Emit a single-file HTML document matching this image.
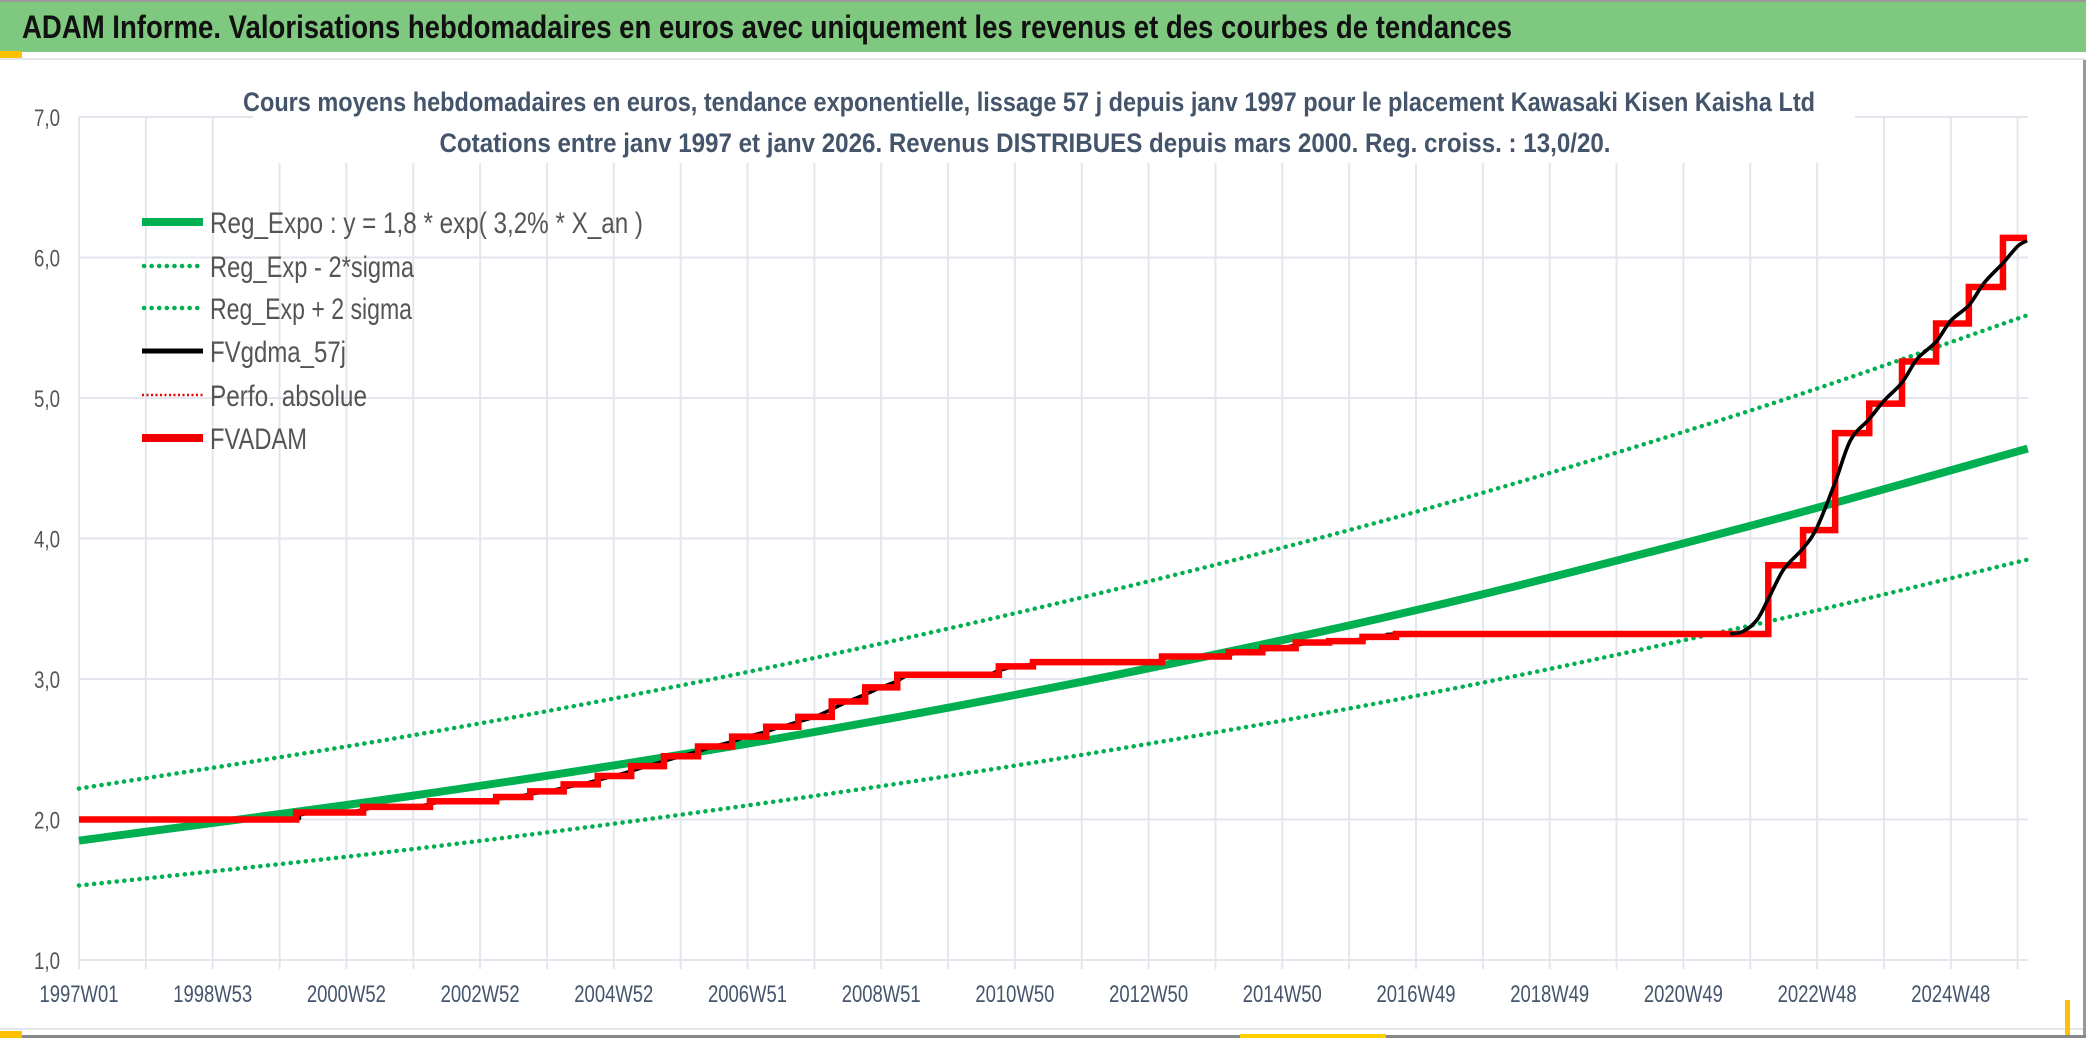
<!DOCTYPE html>
<html><head><meta charset="utf-8"><style>
html,body{margin:0;padding:0;background:#fff;}
svg{display:block;font-family:"Liberation Sans Narrow","Liberation Sans",sans-serif;}
</style></head><body>
<svg id="chart" width="2086" height="1038" viewBox="0 0 2086 1038" xmlns="http://www.w3.org/2000/svg">
<rect x="0" y="0" width="2086" height="1038" fill="#fff"/>
<rect x="0" y="0" width="2086" height="52" fill="#7fc87f"/>
<rect x="0" y="0" width="2086" height="2" fill="#9a9a9a"/>
<text x="22" y="38" font-size="32" font-weight="bold" fill="#111" textLength="1490" lengthAdjust="spacingAndGlyphs">ADAM Informe. Valorisations hebdomadaires en euros avec uniquement les revenus et des courbes de tendances</text>
<rect x="0" y="51" width="22" height="8" fill="#ffc000"/>
<rect x="0" y="58" width="2086" height="2" fill="#e4e6ea"/>
<rect x="0" y="1028" width="2086" height="2" fill="#e4e6ea"/>
<rect x="0" y="1035" width="2086" height="3" fill="#888"/>
<rect x="0" y="1031" width="22" height="7" fill="#ffc000"/>
<rect x="2083" y="60" width="3" height="975" fill="#999"/>
<rect x="2065" y="1000" width="5" height="35" fill="#ffc000"/>
<rect x="1240" y="1034" width="146" height="4" fill="#ffd000"/>
<g id="grid"></g>
<rect x="253" y="60" width="1602" height="103" fill="#fff"/>
<text x="1029" y="111" text-anchor="middle" font-size="27" font-weight="bold" fill="#44546a" textLength="1572" lengthAdjust="spacingAndGlyphs">Cours moyens hebdomadaires en euros, tendance exponentielle, lissage 57 j depuis janv 1997 pour le placement Kawasaki Kisen Kaisha Ltd</text>
<text x="1025" y="152" text-anchor="middle" font-size="27" font-weight="bold" fill="#44546a" textLength="1171" lengthAdjust="spacingAndGlyphs">Cotations entre janv 1997 et janv 2026. Revenus DISTRIBUES depuis mars 2000. Reg. croiss. : 13,0/20.</text>
<g id="series"></g>
<g id="legend">
<line x1="142" y1="222" x2="203" y2="222" stroke="#00b050" stroke-width="8"/>
<text x="210" y="233" font-size="30" fill="#555" textLength="433" lengthAdjust="spacingAndGlyphs">Reg_Expo : y = 1,8 * exp( 3,2% *  X_an )</text>
<line x1="144" y1="266" x2="203" y2="266" stroke="#00b050" stroke-width="4.5" stroke-dasharray="0.1 7.5" stroke-linecap="round"/>
<text x="210" y="277" font-size="30" fill="#555" textLength="204" lengthAdjust="spacingAndGlyphs">Reg_Exp - 2*sigma</text>
<line x1="144" y1="308" x2="203" y2="308" stroke="#00b050" stroke-width="4.5" stroke-dasharray="0.1 7.5" stroke-linecap="round"/>
<text x="210" y="319" font-size="30" fill="#555" textLength="202" lengthAdjust="spacingAndGlyphs">Reg_Exp + 2 sigma</text>
<line x1="142" y1="351" x2="203" y2="351" stroke="#000" stroke-width="5"/>
<text x="210" y="362" font-size="30" fill="#555" textLength="136" lengthAdjust="spacingAndGlyphs">FVgdma_57j</text>
<line x1="142" y1="395" x2="203" y2="395" stroke="#e00" stroke-width="2.5" stroke-dasharray="2 2.5"/>
<text x="210" y="406" font-size="30" fill="#555" textLength="157" lengthAdjust="spacingAndGlyphs">Perfo. absolue</text>
<line x1="142" y1="438" x2="203" y2="438" stroke="#e00" stroke-width="8"/>
<text x="210" y="449" font-size="30" fill="#555" textLength="97" lengthAdjust="spacingAndGlyphs">FVADAM</text>
</g>
</svg>
<script>
const yTicks = [1,2,3,4,5,6,7];
const yTickLabels = ["1,0","2,0","3,0","4,0","5,0","6,0","7,0"];
const xLabelYears = [1997,1999,2001,2003,2005,2007,2009,2011,2013,2015,2017,2019,2021,2023,2025];
const xLabels = ["1997W01","1998W53","2000W52","2002W52","2004W52","2006W51","2008W51","2010W50","2012W50","2014W50","2016W49","2018W49","2020W49","2022W48","2024W48"];
const gridYears = [1997,1998,1999,2000,2001,2002,2003,2004,2005,2006,2007,2008,2009,2010,2011,2012,2013,2014,2015,2016,2017,2018,2019,2020,2021,2022,2023,2024,2025,2026];
const regYears = [1997,2002,2007,2012,2017,2022,2026.15];
const regValues = [1.85,2.17,2.54,2.98,3.49,4.09,4.64];
const regLowValues = [1.53,1.79,2.10,2.46,2.88,3.38,3.85];
const regHighValues = [2.22,2.60,3.05,3.58,4.19,4.91,5.59];
const adamYears = [1997.0,2000.25,2001.25,2002.25,2003.24,2003.75,2004.25,2004.76,2005.26,2005.75,2006.26,2006.77,2007.28,2007.76,2008.26,2008.76,2009.24,2010.76,2011.27,2013.2,2014.2,2014.7,2015.2,2015.7,2016.2,2016.7,2022.27,2022.79,2023.27,2023.78,2024.27,2024.78,2025.27,2025.78];
const adamValues = [2.0,2.05,2.09,2.13,2.16,2.20,2.25,2.31,2.38,2.45,2.52,2.59,2.66,2.73,2.84,2.94,3.03,3.09,3.12,3.16,3.19,3.22,3.26,3.27,3.30,3.32,3.81,4.06,4.75,4.96,5.26,5.53,5.79,6.14];
const adamEnd = 2026.14;
const smoothYears = [1997,2000.0,2000.25,2000.5,2001.0,2001.25,2001.5,2002.0,2002.25,2002.5,2003.0,2003.24,2003.5,2003.75,2004.0,2004.25,2004.5,2004.76,2005.0,2005.26,2005.5,2005.75,2006.0,2006.26,2006.5,2006.77,2007.0,2007.28,2007.5,2007.76,2008.0,2008.26,2008.5,2008.76,2009.0,2009.24,2009.5,2010.5,2010.76,2011.0,2011.27,2011.5,2013.0,2013.2,2013.4,2014.0,2014.2,2014.45,2014.7,2014.95,2015.2,2015.45,2015.7,2015.95,2016.2,2016.45,2016.7,2017.0,2021.7,2021.9,2022.1,2022.27,2022.5,2022.79,2023.0,2023.27,2023.5,2023.78,2024.0,2024.27,2024.5,2024.78,2025.0,2025.27,2025.5,2025.78,2026.0,2026.14];
const smoothValues = [2.0,2.0,2.025,2.05,2.05,2.07,2.09,2.09,2.11,2.13,2.13,2.145,2.16,2.18,2.20,2.225,2.25,2.28,2.31,2.345,2.38,2.415,2.45,2.485,2.52,2.555,2.59,2.625,2.66,2.695,2.73,2.785,2.84,2.89,2.94,2.985,3.03,3.03,3.06,3.09,3.105,3.12,3.12,3.14,3.16,3.16,3.175,3.19,3.205,3.22,3.24,3.26,3.265,3.27,3.285,3.30,3.31,3.32,3.32,3.34,3.42,3.57,3.78,3.93,4.08,4.40,4.70,4.85,4.98,5.11,5.28,5.40,5.55,5.66,5.82,5.96,6.08,6.12];

const NS="http://www.w3.org/2000/svg";
const X0=79, XPY=66.85, Y1=960, YPU=140.5;
function sx(t){return X0+(t-1997)*XPY;}
function sy(v){return Y1-(v-1)*YPU;}
function mk(tag,parent,attrs){const e=document.createElementNS(NS,tag);for(const k in attrs)e.setAttribute(k,attrs[k]);parent.appendChild(e);return e;}
const grid=document.getElementById('grid');
const series=document.getElementById('series');
yTicks.forEach((v,i)=>{
  const l=mk('line',grid,{x1:X0,x2:2028,y1:sy(v),y2:sy(v),stroke:'#e3e6ec','stroke-width':2});
  
  
  const t=mk('text',grid,{x:60,y:sy(v)+9,'text-anchor':'end','font-size':24,fill:'#555',textLength:26,lengthAdjust:'spacingAndGlyphs'});
  t.textContent=yTickLabels[i];
  
  
});
gridYears.forEach(yr=>{
  const l=mk('line',grid,{x1:sx(yr),x2:sx(yr),y1:sy(7),y2:Y1+9,stroke:'#e3e6ec','stroke-width':2});
  
  
});
xLabelYears.forEach((yr,i)=>{
  const t=mk('text',grid,{x:sx(yr),y:1002,'text-anchor':'middle','font-size':24,fill:'#44546a',textLength:79,lengthAdjust:'spacingAndGlyphs'});
  t.textContent=xLabels[i];
  
  
});
function smoothPath(xs,ys){
  const p=xs.map((t,i)=>[sx(t),sy(ys[i])]);
  let d='M'+p[0][0]+','+p[0][1];
  for(let i=0;i<p.length-1;i++){
    const p0=p[i-1]||p[i],p1=p[i],p2=p[i+1],p3=p[i+2]||p2;
    const c1=[p1[0]+(p2[0]-p0[0])/6,p1[1]+(p2[1]-p0[1])/6];
    const c2=[p2[0]-(p3[0]-p1[0])/6,p2[1]-(p3[1]-p1[1])/6];
    d+=' C'+c1+' '+c2+' '+p2;
  }
  return d;
}
const lo=mk('path',series,{d:smoothPath(regYears,regLowValues),fill:'none',stroke:'#00b050','stroke-width':4.5,'stroke-dasharray':'0.1 7.5','stroke-linecap':'round'});


const hi=mk('path',series,{d:smoothPath(regYears,regHighValues),fill:'none',stroke:'#00b050','stroke-width':4.5,'stroke-dasharray':'0.1 7.5','stroke-linecap':'round'});


const rg=mk('path',series,{d:smoothPath(regYears,regValues),fill:'none',stroke:'#00b050','stroke-width':8});


const blk=mk('path',series,{d:smoothPath(smoothYears,smoothValues),fill:'none',stroke:'#000','stroke-width':3.5});


let d='';
adamYears.forEach((t,i)=>{
  const x=sx(t),y=sy(adamValues[i]);
  d+=(i===0?'M':'L')+x+','+y+' ';
  const nx=sx(i<adamYears.length-1?adamYears[i+1]:adamEnd);
  d+='L'+nx+','+y+' ';
});
const red=mk('path',series,{d:d,fill:'none',stroke:'#ff0000','stroke-width':6.5,'stroke-linejoin':'miter'});


const blk2=mk('path',series,{d:smoothPath(smoothYears.slice(58),smoothValues.slice(58)),fill:'none',stroke:'#000','stroke-width':3.5});


</script>
</body></html>
